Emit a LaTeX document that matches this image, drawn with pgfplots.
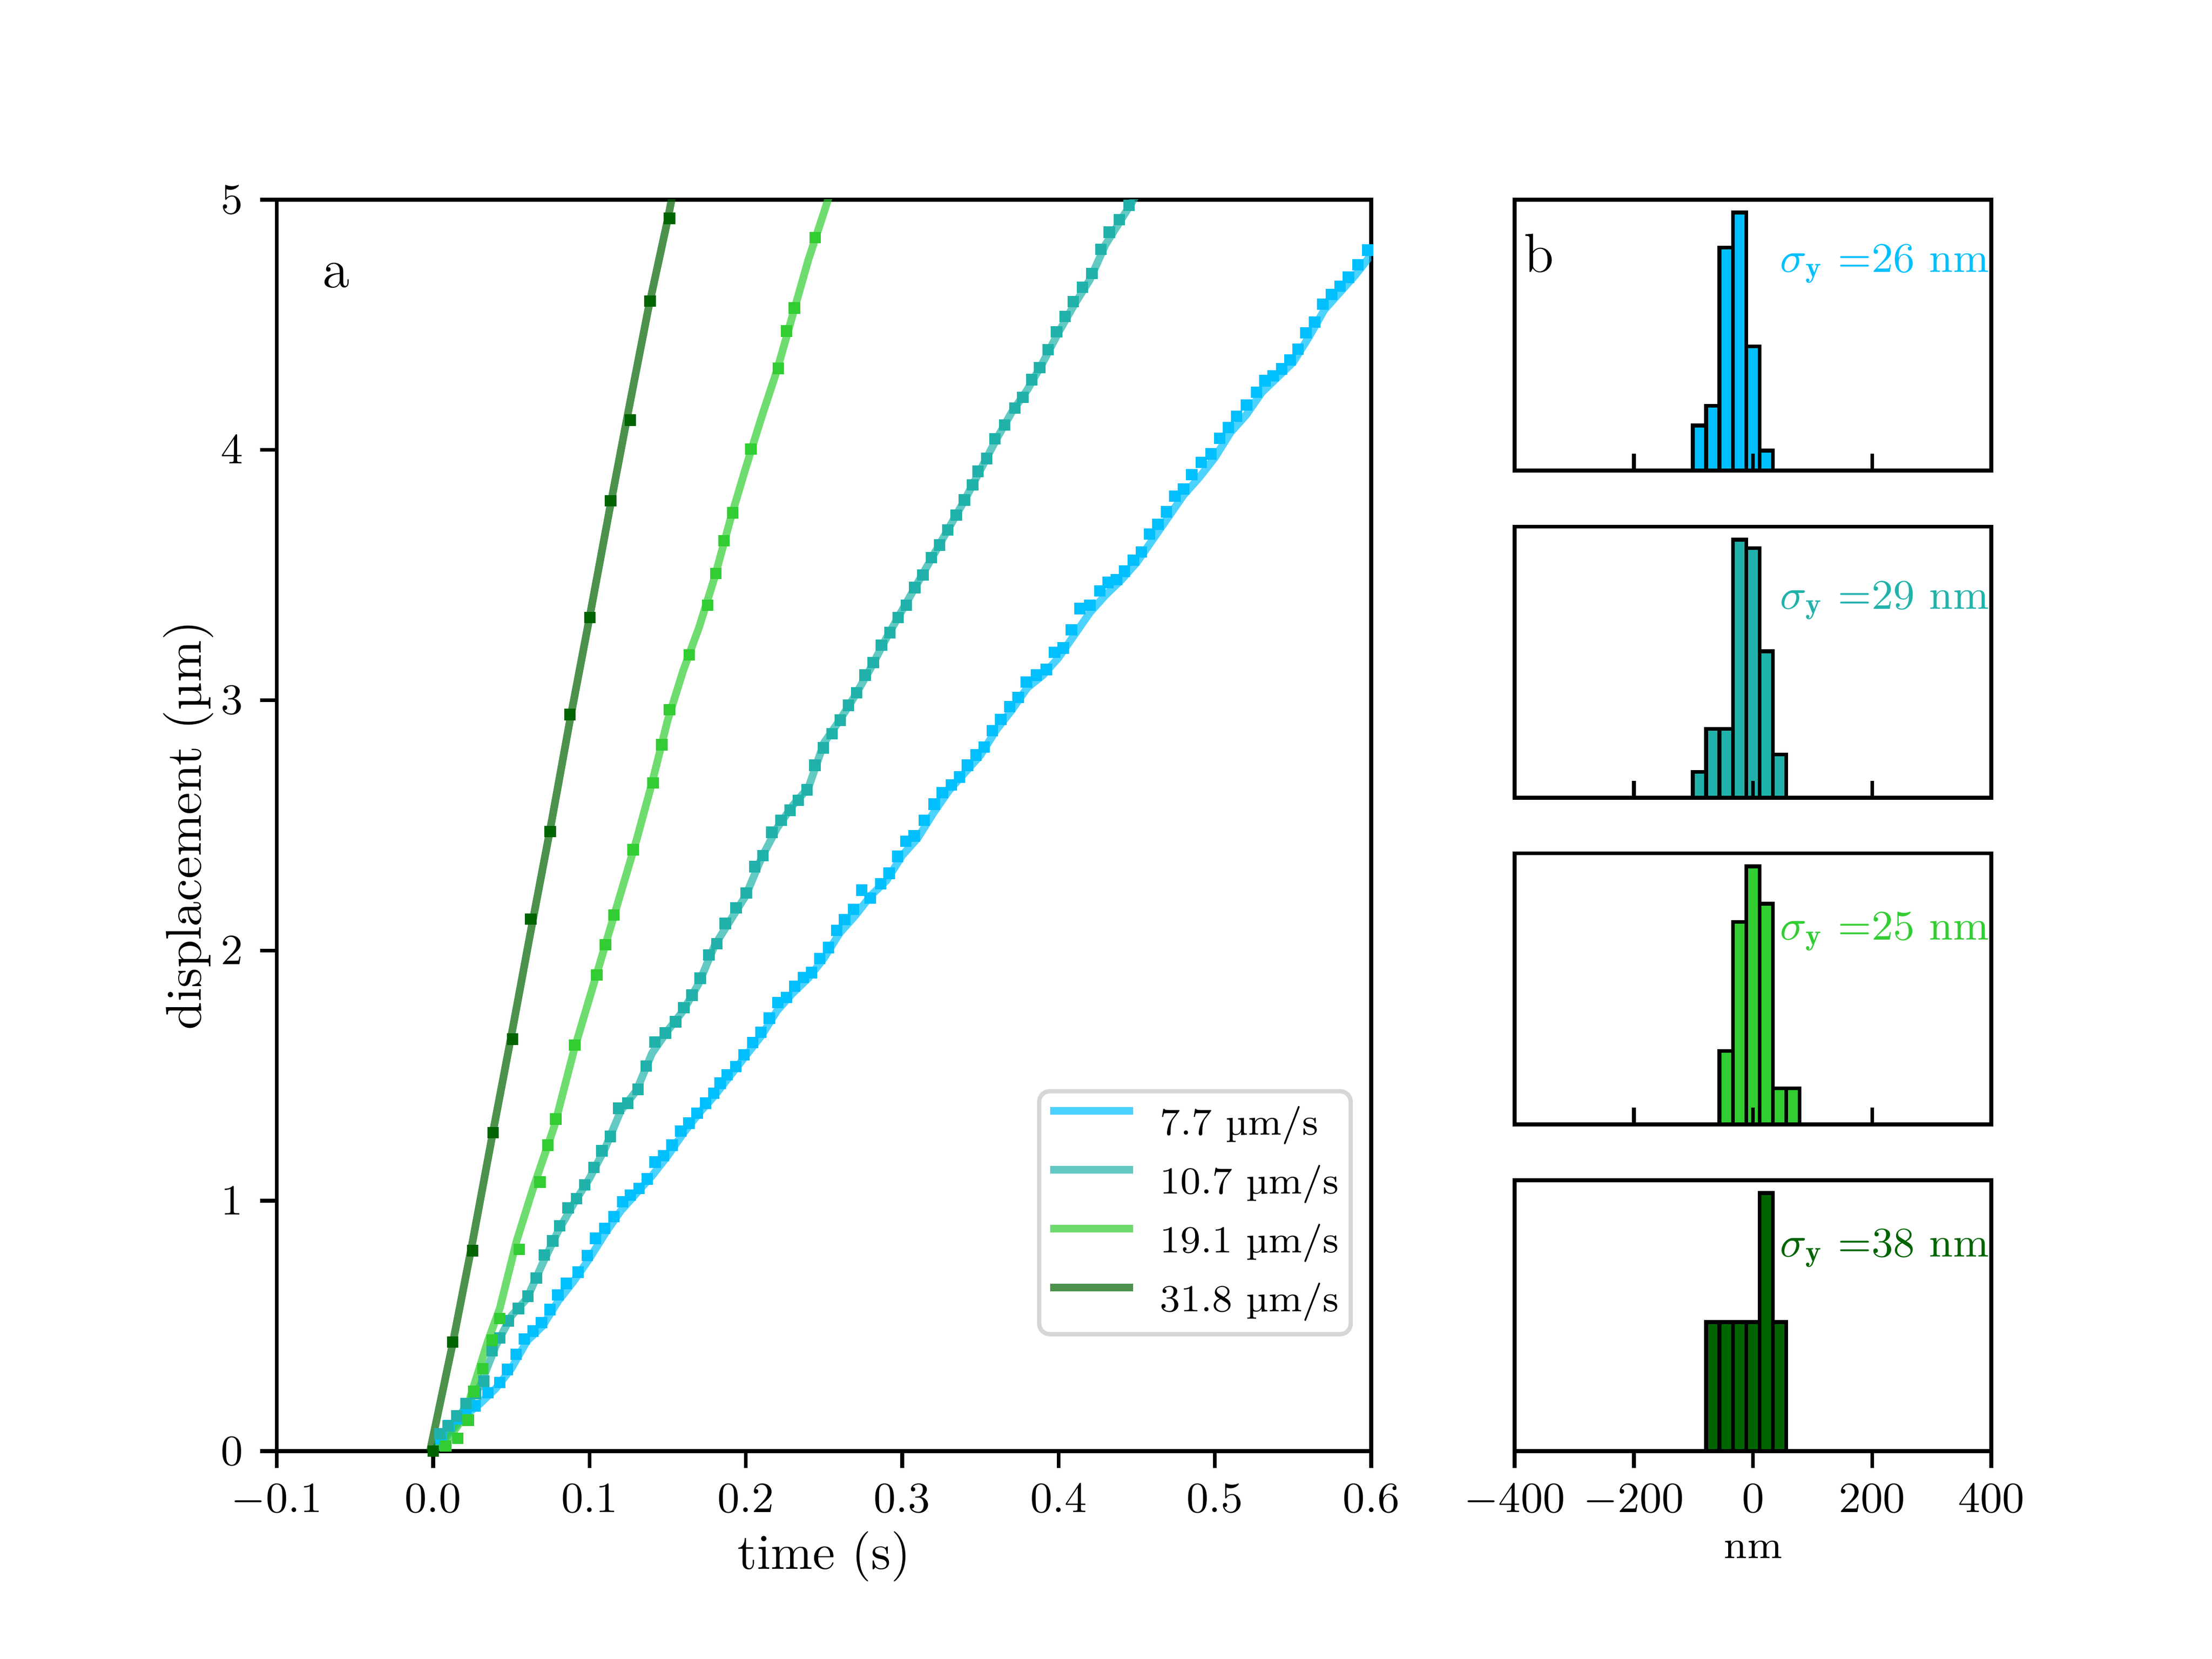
\documentclass[border=0pt]{standalone}
\usepackage{fontspec}
\usepackage{pgfplots}
\pgfplotsset{compat=1.18}
\definecolor{cb}{HTML}{00BFFF}
\definecolor{ct}{HTML}{20B2AA}
\definecolor{cg}{HTML}{32CD32}
\definecolor{cd}{HTML}{006400}
\definecolor{legframe}{HTML}{D6D6D6}
\newcommand{\tickfont}{\fontsize{8.7}{10}\selectfont}
\newcommand{\legfont}{\fontsize{8.0}{10}\selectfont}
\newcommand{\nmfont}{\fontsize{8.33}{10}\selectfont}
\newcommand{\labfont}{\fontsize{10.5}{12}\selectfont}
\newcommand{\panfont}{\fontsize{11.5}{13}\selectfont}
\newcommand{\sigfont}{\fontsize{8.8}{11}\selectfont}
\pgfplotsset{
  common/.style={
    scale only axis, anchor=south west,
    axis line style={line width=0.8pt},
    major tick length=3.5pt,
    tick style={line width=0.8pt, black},
    tick label style={font=\tickfont},
    xtick pos=left, ytick pos=left,
  },
  hist/.style={
    common, width=99.68pt, height=56.65pt,
    xmin=-400, xmax=400, ymin=0, ymax=1.05,
    ytick=\empty, xtick={-400,-200,0,200,400},
    axis on top,
  },
  bars/.style={ybar interval, draw=black, line width=0.8pt, fill=#1},
  ln/.style={line width=1.6pt, opacity=0.7, line join=round, color=#1},
  mk/.style={only marks, mark=square*, mark size=1pt, color=#1, mark options={draw=none, fill=#1}, forget plot},
}
\begin{document}
\begin{tikzpicture}
\useasboundingbox (0,0) rectangle (462.53pt,346.9pt);
% ---------------- main panel ----------------
\begin{axis}[common,
  at={(57.88pt,43.47pt)}, width=228.85pt, height=261.68pt,
  xmin=-0.1, xmax=0.6, ymin=0, ymax=5,
  xtick={-0.1,0,0.1,0.2,0.3,0.4,0.5,0.6},
  ytick={0,1,2,3,4,5},
  tick align=outside,
  xticklabel style={/pgf/number format/.cd, fixed, fixed zerofill, precision=1},
  xlabel={time (s)}, ylabel={displacement (µm)},
  xlabel style={font=\labfont, at={([yshift=-22.1pt]axis description cs:0.5,0)}, anchor=center},
  ylabel style={font=\labfont, at={([xshift=-18.5pt]axis description cs:0,0.5)}, anchor=center},
  legend style={at={(0.9832,0.0917)}, anchor=south east,
    draw=legframe, line width=0.9pt, rounded corners=2.2pt, fill=white,
    font=\legfont, inner xsep=1.5pt, inner ysep=0.8pt, row sep=0pt,
    nodes={inner xsep=1pt, inner ysep=1.15pt, text height=7.2pt, text depth=2.8pt},
    /tikz/every odd column/.append style={column sep=3.9pt}},
  legend cell align=left,
  legend image code/.code={\draw[#1] (0pt,2.8pt) -- (17.3pt,2.8pt);},
]
% smoothed lines
\addplot[ln=cb] coordinates {(0.002,0) (0.01,0.07) (0.02,0.14) (0.03,0.19) (0.04,0.25) (0.05,0.33) (0.06,0.44) (0.07,0.50) (0.08,0.60) (0.09,0.68) (0.10,0.77) (0.11,0.87) (0.12,0.96) (0.13,1.03) (0.14,1.10) (0.15,1.18) (0.16,1.27) (0.17,1.35) (0.18,1.42) (0.19,1.50) (0.20,1.58) (0.21,1.66) (0.22,1.76) (0.23,1.83) (0.24,1.89) (0.25,1.97) (0.26,2.07) (0.27,2.14) (0.28,2.22) (0.29,2.28) (0.30,2.38) (0.31,2.45) (0.32,2.55) (0.33,2.64) (0.34,2.71) (0.35,2.78) (0.36,2.88) (0.37,2.96) (0.38,3.05) (0.39,3.10) (0.40,3.17) (0.41,3.26) (0.42,3.35) (0.43,3.42) (0.44,3.48) (0.45,3.55) (0.46,3.64) (0.47,3.73) (0.48,3.82) (0.49,3.89) (0.50,3.97) (0.51,4.07) (0.52,4.14) (0.53,4.23) (0.54,4.29) (0.55,4.35) (0.56,4.45) (0.57,4.56) (0.58,4.63) (0.59,4.70) (0.60,4.78)};
\addlegendentry{7.7 µm/s}
\addplot[ln=ct] coordinates {(0,0) (0.01,0.08) (0.02,0.17) (0.03,0.26) (0.04,0.42) (0.05,0.54) (0.06,0.61) (0.07,0.75) (0.08,0.88) (0.09,0.99) (0.10,1.09) (0.11,1.21) (0.12,1.36) (0.13,1.44) (0.14,1.59) (0.15,1.68) (0.16,1.76) (0.17,1.87) (0.18,2.02) (0.19,2.12) (0.20,2.22) (0.21,2.37) (0.22,2.49) (0.23,2.58) (0.24,2.65) (0.25,2.83) (0.26,2.92) (0.27,3.02) (0.28,3.13) (0.29,3.25) (0.30,3.36) (0.31,3.47) (0.32,3.58) (0.33,3.69) (0.34,3.80) (0.35,3.92) (0.36,4.04) (0.37,4.15) (0.38,4.24) (0.39,4.35) (0.40,4.47) (0.41,4.58) (0.42,4.68) (0.43,4.82) (0.44,4.92) (0.45,5.02) (0.46,5.14)};
\addlegendentry{10.7 µm/s}
\addplot[ln=cg] coordinates {(0,0) (0.01,0.05) (0.02,0.14) (0.025,0.24) (0.035,0.44) (0.0426,0.57) (0.0534,0.84) (0.0634,1.04) (0.0776,1.30) (0.09,1.60) (0.10,1.81) (0.11,2.02) (0.12,2.23) (0.13,2.44) (0.14,2.67) (0.15,2.92) (0.16,3.12) (0.17,3.29) (0.18,3.49) (0.19,3.72) (0.20,3.93) (0.21,4.13) (0.22,4.32) (0.23,4.54) (0.24,4.76) (0.25,4.95) (0.26,5.15)};
\addlegendentry{19.1 µm/s}
\addplot[ln=cd] coordinates {(-0.002,0) (0.0125,0.43) (0.025,0.83) (0.0375,1.25) (0.05,1.66) (0.0625,2.08) (0.075,2.49) (0.0875,2.92) (0.1,3.33) (0.1125,3.75) (0.125,4.16) (0.1375,4.56) (0.15,4.92) (0.1625,5.32)};
\addlegendentry{31.8 µm/s}
% raw data markers
\addplot[mk=cb] coordinates {(0.000,0.000) (0.005,0.050) (0.0100,0.101) (0.0155,0.130) (0.0210,0.155) (0.0267,0.181) (0.0350,0.233) (0.0426,0.274) (0.0476,0.326) (0.0531,0.387) (0.0584,0.448) (0.0638,0.480) (0.0693,0.513) (0.0747,0.566) (0.0798,0.624) (0.0852,0.670) (0.0927,0.715) (0.0985,0.781) (0.1038,0.850) (0.1097,0.890) (0.1156,0.937) (0.1211,0.996) (0.1261,1.023) (0.1316,1.050) (0.1370,1.087) (0.1420,1.155) (0.1473,1.180) (0.1528,1.222) (0.1583,1.279) (0.1636,1.310) (0.1689,1.350) (0.1742,1.390) (0.1795,1.430) (0.1836,1.470) (0.1880,1.504) (0.1936,1.536) (0.1989,1.583) (0.2043,1.633) (0.2096,1.674) (0.2150,1.730) (0.2205,1.792) (0.2259,1.812) (0.2312,1.857) (0.2368,1.892) (0.2421,1.912) (0.2472,1.968) (0.2528,2.012) (0.2581,2.080) (0.2632,2.123) (0.2688,2.164) (0.2741,2.241) (0.2795,2.210) (0.2863,2.267) (0.2917,2.309) (0.2970,2.376) (0.3023,2.437) (0.3077,2.458) (0.3141,2.520) (0.3205,2.585) (0.3257,2.631) (0.3314,2.661) (0.3366,2.693) (0.3417,2.740) (0.3472,2.781) (0.3524,2.813) (0.3577,2.878) (0.3631,2.924) (0.3688,2.975) (0.3742,3.011) (0.3794,3.073) (0.3858,3.100) (0.3922,3.123) (0.3974,3.191) (0.4030,3.209) (0.4082,3.281) (0.4136,3.366) (0.4200,3.380) (0.4265,3.437) (0.4316,3.471) (0.4371,3.482) (0.4422,3.516) (0.4479,3.560) (0.4530,3.592) (0.4582,3.664) (0.4636,3.703) (0.4689,3.753) (0.4744,3.815) (0.4799,3.844) (0.4852,3.901) (0.4913,3.950) (0.4975,3.984) (0.5030,4.047) (0.5087,4.090) (0.5138,4.134) (0.5202,4.180) (0.5267,4.231) (0.5321,4.277) (0.5373,4.296) (0.5426,4.324) (0.5481,4.360) (0.5532,4.403) (0.5583,4.468) (0.5638,4.511) (0.5691,4.583) (0.5746,4.621) (0.5801,4.654) (0.5854,4.690) (0.5915,4.740) (0.5977,4.798)};
\addplot[mk=ct] coordinates {(0.0000,0.000) (0.0042,0.069) (0.0095,0.100) (0.0150,0.140) (0.0210,0.190) (0.0270,0.230) (0.0325,0.279) (0.0376,0.402) (0.0426,0.452) (0.0481,0.521) (0.0545,0.570) (0.0606,0.619) (0.0660,0.692) (0.0710,0.784) (0.0765,0.840) (0.0810,0.900) (0.0863,0.972) (0.0918,1.009) (0.0970,1.064) (0.1028,1.133) (0.1079,1.200) (0.1133,1.257) (0.1185,1.370) (0.1245,1.390) (0.1310,1.445) (0.1363,1.539) (0.1418,1.635) (0.1485,1.670) (0.1551,1.715) (0.1603,1.772) (0.1655,1.822) (0.1708,1.889) (0.1764,1.982) (0.1814,2.027) (0.1869,2.108) (0.1937,2.170) (0.2003,2.230) (0.2056,2.335) (0.2110,2.379) (0.2166,2.472) (0.2225,2.520) (0.2282,2.560) (0.2335,2.600) (0.2390,2.642) (0.2442,2.740) (0.2496,2.810) (0.2551,2.866) (0.2603,2.920) (0.2656,2.98) (0.2709,3.03) (0.2762,3.10) (0.2815,3.15) (0.2868,3.22) (0.2921,3.27) (0.2974,3.33) (0.3027,3.38) (0.3080,3.45) (0.3133,3.50) (0.3186,3.57) (0.3239,3.62) (0.3292,3.68) (0.3345,3.74) (0.3398,3.80) (0.3451,3.86) (0.3485,3.915) (0.3540,3.966) (0.3592,4.045) (0.3656,4.100) (0.3720,4.167) (0.3771,4.210) (0.3828,4.281) (0.3880,4.329) (0.3934,4.400) (0.3987,4.472) (0.4042,4.533) (0.4093,4.593) (0.4153,4.650) (0.4213,4.705) (0.4270,4.802) (0.4325,4.870) (0.4388,4.920) (0.4450,4.977)};
\addplot[mk=cg] coordinates {(0.0000,0.000) (0.0080,0.020) (0.0158,0.051) (0.0225,0.124) (0.0259,0.238) (0.0317,0.329) (0.0376,0.443) (0.0426,0.530) (0.0550,0.806) (0.0683,1.075) (0.0733,1.222) (0.0785,1.327) (0.0906,1.622) (0.1047,1.903) (0.1102,2.023) (0.1157,2.142) (0.1279,2.403) (0.1407,2.670) (0.1462,2.822) (0.1512,2.962) (0.1637,3.181) (0.1755,3.380) (0.1808,3.507) (0.1860,3.637) (0.1916,3.749) (0.2032,4.003) (0.2207,4.326) (0.2259,4.475) (0.2311,4.567) (0.2444,4.849)};
\addplot[mk=cd] coordinates {(0,0) (0.0125,0.436) (0.0253,0.801) (0.0384,1.272) (0.0508,1.646) (0.0624,2.126) (0.0749,2.475) (0.0875,2.943) (0.1003,3.331) (0.1135,3.797) (0.1261,4.119) (0.1387,4.595) (0.1512,4.925)};
\node[anchor=base west, inner sep=0pt, font=\panfont] at (rel axis cs:0.041,0.93) {a};
\end{axis}
% ---------------- histograms ----------------
\begin{axis}[hist, at={(316.71pt,248.5pt)}, tick align=inside, xticklabels=\empty]
\addplot[bars=cb] coordinates {(-101,0.175) (-78.6,0.251) (-56.2,0.864) (-33.8,1.0) (-11.4,0.481) (11,0.077) (33.4,0.077)};
\node[anchor=base west, inner sep=0pt, font=\panfont] at (rel axis cs:0.018,0.733) {b};
\node[anchor=base west, inner sep=0pt, font=\sigfont, text=cb] at (rel axis cs:0.555,0.732) {$\sigma_{\mathbf{y}}$ =26 nm};
\end{axis}
\begin{axis}[hist, at={(316.71pt,180.1pt)}, tick align=inside, xticklabels=\empty]
\addplot[bars=ct] coordinates {(-101,0.1) (-78.6,0.267) (-56.2,0.267) (-33.8,1.0) (-11.4,0.967) (11,0.567) (33.4,0.167) (55.8,0.167)};
\node[anchor=base west, inner sep=0pt, font=\sigfont, text=ct] at (rel axis cs:0.555,0.697) {$\sigma_{\mathbf{y}}$ =29 nm};
\end{axis}
\begin{axis}[hist, at={(316.71pt,111.8pt)}, tick align=inside, xticklabels=\empty]
\addplot[bars=cg] coordinates {(-56.2,0.284) (-33.8,0.784) (-11.4,1.0) (11,0.855) (33.4,0.14) (55.8,0.14) (78.2,0.14)};
\node[anchor=base west, inner sep=0pt, font=\sigfont, text=cg] at (rel axis cs:0.555,0.680) {$\sigma_{\mathbf{y}}$ =25 nm};
\end{axis}
\begin{axis}[hist, at={(316.71pt,43.47pt)}, tick align=outside,
  xlabel={nm},
  xlabel style={font=\nmfont, at={([yshift=-20.6pt]axis description cs:0.5,0)}, anchor=center}]
\addplot[bars=cd] coordinates {(-78.6,0.5) (-56.2,0.5) (-33.8,0.5) (-11.4,0.5) (11,1.0) (33.4,0.5) (55.8,0.5)};
\node[anchor=base west, inner sep=0pt, font=\sigfont, text=cd] at (rel axis cs:0.555,0.717) {$\sigma_{\mathbf{y}}$ =38 nm};
\end{axis}
\end{tikzpicture}
\end{document}
